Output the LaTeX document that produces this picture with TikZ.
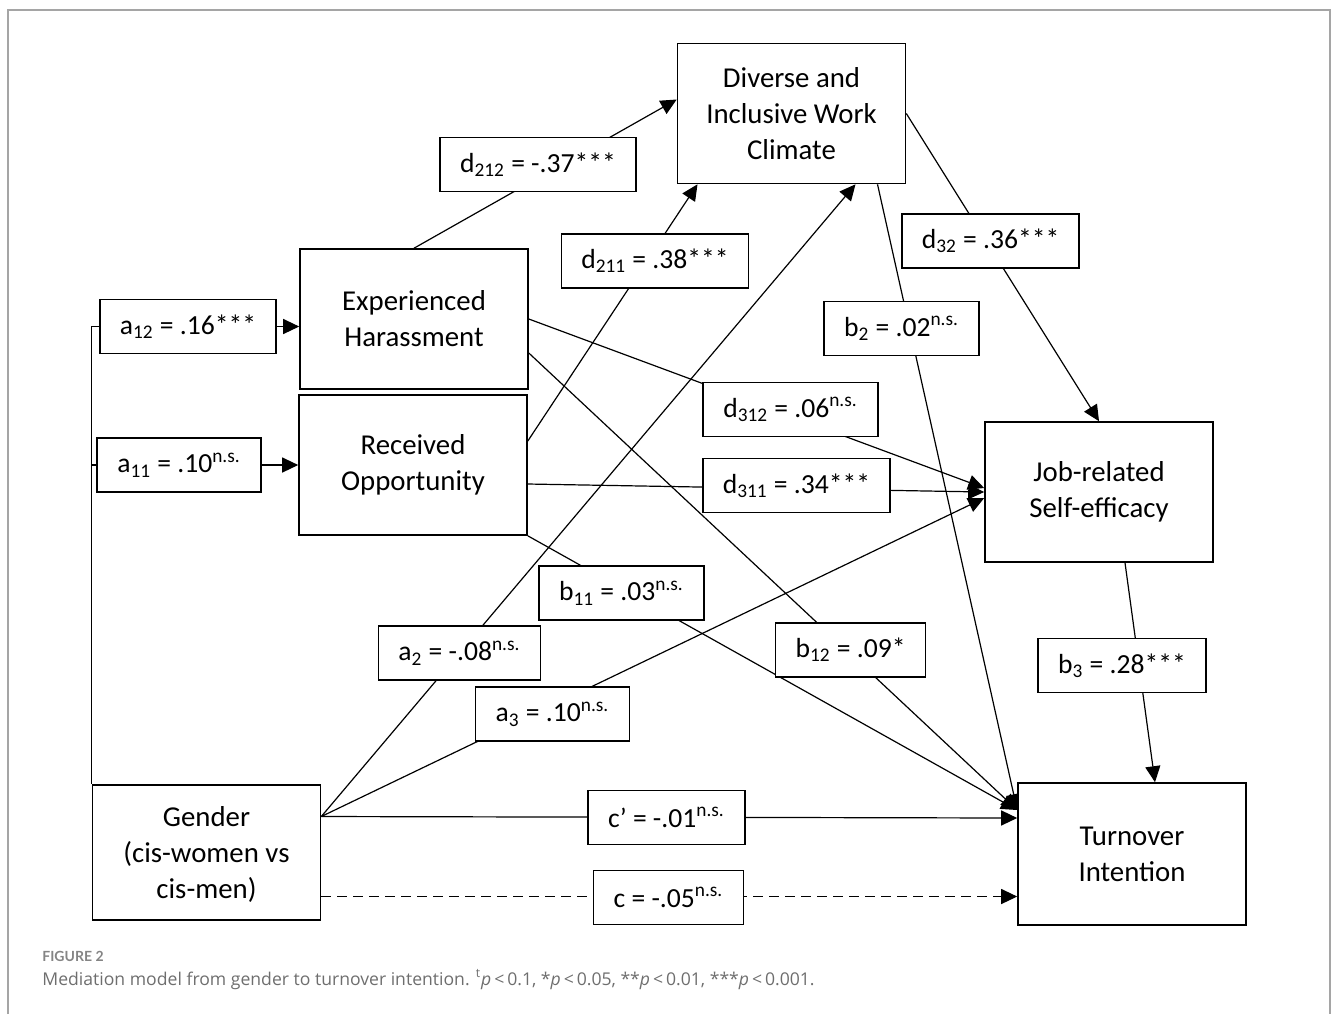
\documentclass[tikz,border=0pt]{standalone}
\usepackage{fontspec}
\setmainfont{Carlito}
\newfontfamily\capfont{Lato}
\newfontfamily\captextfont{Open Sans}
\usetikzlibrary{arrows.meta}

\definecolor{framegray}{RGB}{165,165,165}
\definecolor{capgray}{RGB}{110,110,110}

\pgfdeclarelayer{edges}
\pgfsetlayers{edges,main}

\tikzset{
  semvar/.style={draw, line width=.8pt, fill=white, align=center, minimum width=114pt, minimum height=70pt, inner sep=0pt, font=\fontsize{14.4}{18}\selectfont},
  semcoef/.style={draw, line width=.8pt, fill=white, minimum height=27pt, inner xsep=10pt, inner ysep=0pt, font=\fontsize{13.8}{16}\selectfont},
  semline/.style={line width=.6pt},
  semarrow/.style={line width=.6pt, -{Triangle[length=8pt, width=7.5pt]}},
  semframe/.style={draw=framegray, line width=1pt},
  capfig/.style={text=capgray!85, inner sep=0pt, font=\capfont\bfseries\fontsize{7}{8}\selectfont},
  captext/.style={text=capgray, inner sep=0pt, font=\captextfont\fontsize{8.8}{10}\selectfont}
}

\begin{document}
\begin{tikzpicture}[x=.5pt, y=-.5pt]
\useasboundingbox (0,0) rectangle (1331,1014);
\draw[semframe] (8,1014) -- (8,10) -- (1330,10) -- (1330,1014);

\node[semvar] (climate) at (791.5,113.5) {Diverse and\\Inclusive Work\\Climate};
\node[semvar] (harass) at (414,319) {Experienced\\Harassment};
\node[semvar] (oppor) at (413,465) {Received\\Opportunity};
\node[semvar] (efficacy) at (1099,492) {Job-related\\Self-efficacy};
\node[semvar, minimum height=71pt] (turnover) at (1132,854) {Turnover\\Intention};
\node[semvar, minimum height=67.5pt, text depth=0pt] (gender) at (206.5,852.5) {Gender\\(cis-women vs\\cis-men)};

\node[semcoef] (a12) at (188,326.5) {a\textsubscript{12} = .16***};
\node[semcoef] (a11) at (179,465) {a\textsubscript{11} = .10\textsuperscript{n.s.}};
\node[semcoef] (d212) at (538,164.5) {d\textsubscript{212} = -.37***};
\node[semcoef] (d211) at (655,261) {d\textsubscript{211} = .38***};
\node[semcoef] (d32) at (990.5,241) {d\textsubscript{32} = .36***};
\node[semcoef] (b2) at (901.5,328.5) {b\textsubscript{2} = .02\textsuperscript{n.s.}};
\node[semcoef] (d312) at (790.5,409.5) {d\textsubscript{312} = .06\textsuperscript{n.s.}};
\node[semcoef] (d311) at (796.5,485.5) {d\textsubscript{311} = .34***};
\node[semcoef] (b11) at (621.5,593) {b\textsubscript{11} = .03\textsuperscript{n.s.}};
\node[semcoef] (b12) at (850.5,650) {b\textsubscript{12} = .09*};
\node[semcoef] (a2) at (459.5,653) {a\textsubscript{2} = -.08\textsuperscript{n.s.}};
\node[semcoef] (a3) at (552.5,714) {a\textsubscript{3} = .10\textsuperscript{n.s.}};
\node[semcoef] (b3) at (1122,665.5) {b\textsubscript{3} = .28***};
\node[semcoef] (cprime) at (666.5,817.5) {c’ = -.01\textsuperscript{n.s.}};
\node[semcoef] (ctotal) at (668.5,897.5) {c = -.05\textsuperscript{n.s.}};

\coordinate (gout) at ([yshift=18pt]gender.east);
\coordinate (tin) at ([yshift=18pt]turnover.west);
\coordinate (tdiag) at ([yshift=22pt]turnover.west);

\begin{pgfonlayer}{edges}
\draw[semline] (gender.north west) |- (a12.west);
\draw[semline] (gender.north west |- a11.west) -- (a11.west);
\draw[semarrow] (a12.east) -- (a12.east -| harass.west);
\draw[semarrow] (a11.east) -- (a11.east -| oppor.west);
\draw[semarrow] (harass.north) -- ([yshift=7pt]climate.west);
\draw[semarrow] ([yshift=12pt]oppor.east) -- ([xshift=-47pt]climate.south);
\draw[semarrow] (gout) -- ([xshift=32pt]climate.south);
\draw[semarrow] (climate.east) -- (efficacy.north);
\draw[semarrow] ([xshift=43pt]climate.south) -- (tdiag);
\draw[semarrow] (harass.east) -- ([yshift=2pt]efficacy.west);
\draw[semarrow] ([yshift=-9.5pt]oppor.east) -- (efficacy.west);
\draw[semarrow] (gout) -- ([yshift=-3pt]efficacy.west);
\draw[semarrow] ([yshift=-17pt]harass.east) -- (tdiag);
\draw[semarrow] (oppor.south east) -- (tdiag);
\draw[semarrow] ([xshift=13pt]efficacy.south) -- ([xshift=11.5pt]turnover.north);
\draw[semarrow] (gout) -- (tin);
\draw[semarrow, dash pattern=on 5pt off 3pt] ([yshift=-22pt]gender.east) coordinate (cfrom) -- (cfrom -| turnover.west);
\end{pgfonlayer}

\node[capfig, anchor=base west] (fignum) at (42,961) {FIGURE 2};
\node[captext, anchor=base west] (caption) at (42,985) {Mediation model from gender to turnover intention. \textsuperscript{t}\textit{p}\,<\,0.1, *\textit{p}\,<\,0.05, **\textit{p}\,<\,0.01, ***\textit{p}\,<\,0.001.};
\end{tikzpicture}
\end{document}
